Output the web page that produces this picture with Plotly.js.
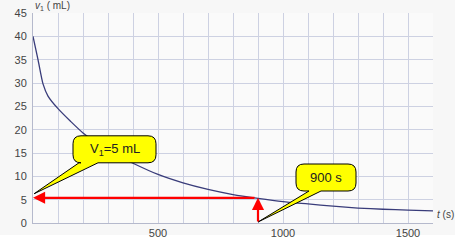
<!DOCTYPE html>
<html>
<head>
<meta charset="utf-8">
<script src="https://cdn.plot.ly/plotly-3.0.1.min.js"></script>
<style>html,body{margin:0;padding:0;background:#fff;}#chart{width:455px;height:249px;}</style>
</head>
<body>
<div id="chart"></div>
<script>
// ---- data ----
const timeS = [0, 20, 40, 60, 100, 150, 200, 300, 400, 500, 600, 700, 800, 900, 1000, 1100, 1200, 1300, 1400, 1500, 1600];
const volumeML = [40, 35, 29.8, 27.2, 24.5, 21.8, 19.3, 15.5, 12.8, 10.4, 8.6, 7.2, 6.1, 5.3, 4.6, 4.1, 3.6, 3.2, 2.95, 2.75, 2.6];
const markTime = [900];
const markVolume = [5.4];
const xTickVals = [500, 1000, 1500];
const xTickLabels = ['500', '1000', '1500'];
const yTickVals = [0, 5, 10, 15, 20, 25, 30, 35, 40, 45];
const calloutTexts = ['V<sub>1</sub>=5 mL', '900 s'];

// ---- layout geometry ----
const W = 455, H = 249;
const M = {l: 33, r: 22, t: 13, b: 26};
const xRange = [0, 1600], yRange = [0, 45];
const pw = W - M.l - M.r, ph = H - M.t - M.b;
const x2px = x => M.l + (x - xRange[0]) / (xRange[1] - xRange[0]) * pw;
const y2px = y => M.t + ph - (y - yRange[0]) / (yRange[1] - yRange[0]) * ph;
const px2x = p => xRange[0] + (p - M.l) / pw * (xRange[1] - xRange[0]);
const py2y = p => yRange[0] + (M.t + ph - p) / ph * (yRange[1] - yRange[0]);

// minor grid every 100 s
const gridVals = [];
for (let v = xRange[0]; v <= xRange[1]; v += 100) gridVals.push(v);

// callout speech bubble built in pixel space, converted to data space
function callout(tipPx, dx, dy, w, h, r, tb0, tb1) {
  const L = tipPx[0] + dx, T = tipPx[1] + dy, R = L + w, B = T + h;
  const P = (x, y) => px2x(x).toFixed(3) + ',' + py2y(y).toFixed(4);
  const path = 'M' + P(L + r, T) + ' L' + P(R - r, T) + ' Q' + P(R, T) + ' ' + P(R, T + r) +
    ' L' + P(R, B - r) + ' Q' + P(R, B) + ' ' + P(R - r, B) +
    ' L' + P(L + tb1, B) + ' L' + P(tipPx[0], tipPx[1]) + ' L' + P(L + tb0, B) +
    ' L' + P(L + r, B) + ' Q' + P(L, B) + ' ' + P(L, B - r) +
    ' L' + P(L, T + r) + ' Q' + P(L, T) + ' ' + P(L + r, T) + ' Z';
  return {path, cx: px2x(L + w / 2), cy: py2y(T + h / 2)};
}

const tipA = [x2px(0) + 1, y2px(markVolume[0]) - 4];
const tipB = [x2px(markTime[0]), y2px(0) - 1];
const cA = callout(tipA, 39, -58, 83, 27, 8, 6, 25);
const cB = callout(tipB, 38, -58, 60, 27, 8, 13, 25);

const gridColor = '#cdd1e2';
const fam = 'Liberation Sans, Arial, sans-serif';
const font = {family: fam, size: 11, color: '#444'};

const traces = [{
  x: timeS, y: volumeML, type: 'scatter', mode: 'lines',
  line: {color: '#393c7a', width: 1.3, shape: 'spline', smoothing: 0.6},
  hoverinfo: 'skip', cliponaxis: false
}];

const shapes = [
  {type: 'rect', xref: 'paper', yref: 'paper', x0: -0.2, x1: 1.2, y0: -0.3, y1: -(235 - (M.t + ph)) / ph,
   fillcolor: '#ffffff', line: {width: 0}, layer: 'below'},
  {type: 'path', xref: 'x', yref: 'y', path: cA.path, fillcolor: '#ffff00', line: {color: '#000', width: 1}, layer: 'above'},
  {type: 'path', xref: 'x', yref: 'y', path: cB.path, fillcolor: '#ffff00', line: {color: '#000', width: 1}, layer: 'above'}
];

const annotations = [
  // red arrows
  {x: 0, y: markVolume[0], ax: markTime[0] - 8, ay: markVolume[0], xref: 'x', yref: 'y', axref: 'x', ayref: 'y',
   text: '', showarrow: true, arrowhead: 2, arrowsize: 1.1, arrowwidth: 2.2, arrowcolor: '#ff0000', standoff: 0},
  {x: markTime[0], y: markVolume[0], ax: markTime[0], ay: 0, xref: 'x', yref: 'y', axref: 'x', ayref: 'y',
   text: '', showarrow: true, arrowhead: 2, arrowsize: 1.1, arrowwidth: 2.2, arrowcolor: '#ff0000', standoff: 0},
  // callout labels
  {x: cA.cx, y: cA.cy, xref: 'x', yref: 'y', text: calloutTexts[0], showarrow: false,
   font: {family: fam, size: 13, color: '#222'}},
  {x: cB.cx, y: cB.cy, xref: 'x', yref: 'y', text: calloutTexts[1], showarrow: false,
   font: {family: fam, size: 13, color: '#222'}},
  // axis titles
  {x: 0, y: 1 + 7 / ph, xref: 'paper', yref: 'paper', xanchor: 'left', yanchor: 'middle',
   text: '<i>v</i><sub>1</sub> ( mL)', showarrow: false, font: {family: fam, size: 10, color: '#444'}},
  {x: 1 + 2 / pw, y: 9 / ph, xref: 'paper', yref: 'paper', xanchor: 'left', yanchor: 'middle',
   text: '<i>t</i> (s)', showarrow: false, font: {family: fam, size: 10, color: '#444'}}
];

const layout = {
  width: W, height: H, margin: M,
  paper_bgcolor: '#f7f7f7', plot_bgcolor: '#fafafa',
  showlegend: false,
  font: font,
  xaxis: {range: xRange, tickmode: 'array', tickvals: xTickVals, ticktext: xTickLabels,
    showgrid: true, gridcolor: gridColor, gridwidth: 1, zeroline: false,
    minor: {tickmode: 'array', tickvals: gridVals, showgrid: true, gridcolor: gridColor, gridwidth: 1, ticks: ''},
    showline: true, linecolor: '#b5b9cc', linewidth: 1, ticks: '', tickfont: font, fixedrange: true},
  yaxis: {range: yRange, tickmode: 'array', tickvals: yTickVals,
    showgrid: true, gridcolor: gridColor, gridwidth: 1, zeroline: false,
    showline: true, linecolor: '#b5b9cc', linewidth: 1, ticks: '', tickfont: font, ticklabelstandoff: 3, fixedrange: true},
  shapes: shapes,
  annotations: annotations
};

Plotly.newPlot('chart', traces, layout, {staticPlot: true, displayModeBar: false});
</script>
</body>
</html>
